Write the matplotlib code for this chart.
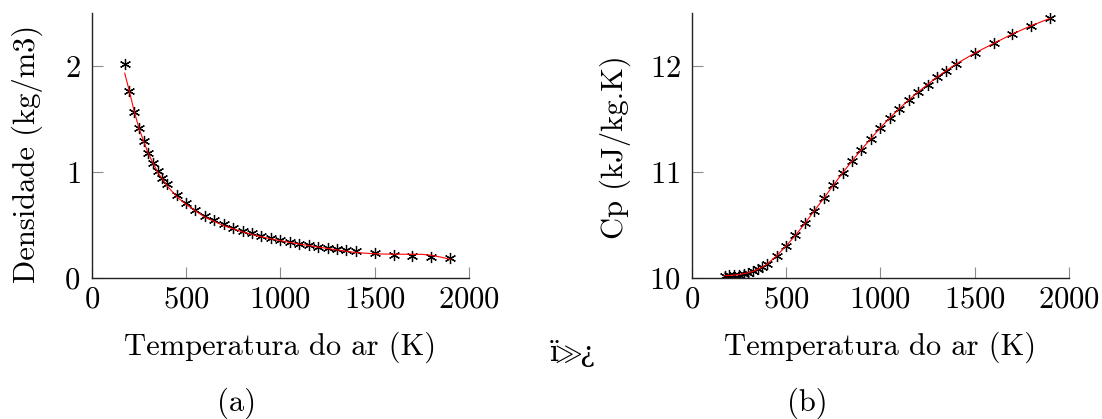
import numpy as np
import matplotlib
matplotlib.use("Agg")
from matplotlib import pyplot as plt

plt.rcParams['font.family'] = ['cmr10', 'DejaVu Serif', 'DejaVu Sans']
plt.rcParams['axes.formatter.use_mathtext'] = True
plt.rcParams['mathtext.fontset'] = 'cm'

# temperatura (K) dos pontos medidos
temp = [175, 200, 225, 250, 275, 300, 325, 350, 375, 400, 450, 500, 550, 600, 650,
        700, 750, 800, 850, 900, 950, 1000, 1050, 1100, 1150, 1200, 1250, 1300, 1350,
        1400, 1500, 1600, 1700, 1800, 1900]

# densidade (kg/m3)
dens = [2.02, 1.77, 1.57, 1.42, 1.29, 1.18, 1.085, 1.01, 0.943, 0.889, 0.785, 0.709,
        0.639, 0.585, 0.544, 0.506, 0.472, 0.443, 0.418, 0.396, 0.373, 0.358, 0.339,
        0.323, 0.307, 0.291, 0.278, 0.269, 0.259, 0.253, 0.231, 0.218, 0.209, 0.196, 0.184]

# cp (kJ/kg.K)
cp = [10.02, 10.022, 10.025, 10.03, 10.037, 10.047, 10.06, 10.078, 10.10, 10.13,
      10.206, 10.30, 10.40, 10.513, 10.633, 10.75, 10.873, 10.99, 11.104, 11.212,
      11.316, 11.418, 11.51, 11.598, 11.68, 11.756, 11.826, 11.896, 11.959, 12.019,
      12.123, 12.215, 12.304, 12.383, 12.453]

# curva ajustada (vermelha) da densidade
temp_fit = [175, 200, 225, 250, 275, 300, 350, 400, 450, 500, 600, 700, 800, 900,
            1000, 1100, 1200, 1300, 1400, 1500, 1600, 1700, 1750, 1800, 1850, 1900]
dens_fit = [1.934, 1.762, 1.575, 1.418, 1.29, 1.175, 0.995, 0.868, 0.768, 0.693,
            0.572, 0.492, 0.432, 0.386, 0.350, 0.318, 0.290, 0.263, 0.238, 0.226,
            0.222, 0.222, 0.221, 0.212, 0.195, 0.174]

W, H = 1102, 419
fig = plt.figure(figsize=(W / 100, H / 100), dpi=100)

def px_axes(x0, x1, y_top, y_bot):
    return fig.add_axes([x0 / W, 1 - y_bot / H, (x1 - x0) / W, (y_bot - y_top) / H])

FS = 22
star = (6, 2, 0)

def style_axes(ax, ylim, yticks):
    ax.set_xlim(0, 2000)
    ax.set_ylim(*ylim)
    ax.set_xticks([0, 500, 1000, 1500, 2000])
    ax.set_yticks(yticks)
    for s in ['top', 'right']:
        ax.spines[s].set_visible(False)
    for s in ['left', 'bottom']:
        ax.spines[s].set_linewidth(1.0)
        ax.spines[s].set_color('#222222')
    ax.tick_params(direction='in', length=8, width=0.8, color='#8c8c8c',
                   labelsize=FS, labelcolor='black')
    ax.tick_params(axis='y', pad=8)
    ax.tick_params(axis='x', pad=6)

# (a) densidade
ax1 = px_axes(91.7, 469, 13.3, 277.7)
ax1.plot(temp, dens, linestyle='none', marker=star, markersize=8,
         markeredgewidth=0.9, color='black', zorder=2)
ax1.plot(temp_fit, dens_fit, color='red', lw=0.8, zorder=3)
style_axes(ax1, (0, 2.5), [0, 1, 2])

# (b) cp
ax2 = px_axes(691.7, 1069, 13.3, 277.7)
ax2.plot(temp, cp, linestyle='none', marker=star, markersize=8,
         markeredgewidth=0.9, color='black', zorder=2)
ax2.plot(temp, cp, color='red', lw=0.8, zorder=3)
style_axes(ax2, (10, 12.5), [10, 11, 12])

def ftext(x, y, s, size=FS, **kw):
    fig.text(x / W, 1 - y / H, s, fontsize=size, **kw)

ftext(27.5, 154, 'Densidade (kg/m3)', rotation=90, ha='center', va='center')
ftext(615, 147, 'Cp (kJ/kg.K)', rotation=90, ha='center', va='center')
ftext(280, 355, 'Temperatura do ar (K)', ha='center', va='baseline')
ftext(880, 355, 'Temperatura do ar (K)', ha='center', va='baseline')
ftext(572, 361, r'ï$\!\!\gg\!\!$¿', size=20, ha='center', va='baseline',
      family=['DejaVu Serif'])
ftext(237, 411, '(a)', ha='center', va='baseline')
ftext(807, 411, '(b)', ha='center', va='baseline')

fig.savefig('out.png', dpi=100)
